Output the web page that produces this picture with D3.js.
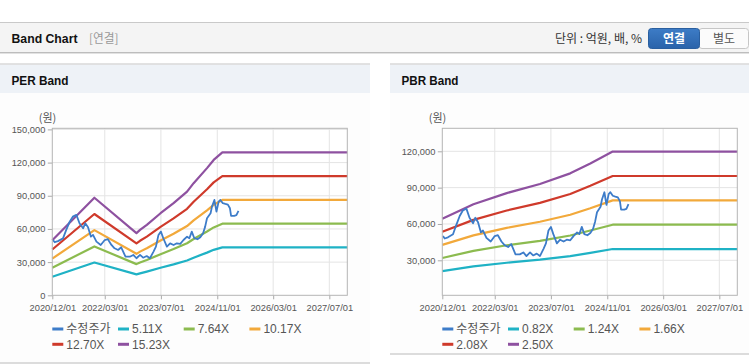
<!DOCTYPE html>
<html><head><meta charset="utf-8">
<script src="https://cdn.jsdelivr.net/npm/d3@7"></script>
<style>
html,body{margin:0;padding:0;background:#fff;}
svg{display:block;font-family:"Liberation Sans",Arial,"Noto Sans CJK KR",sans-serif;}
</style></head>
<body>
<svg id="c" width="749" height="364"></svg>
<script>
// ---------- DATA ----------
const xTickLabels = ["2020/12/01","2022/03/01","2023/07/01","2024/11/01","2026/03/01","2027/07/01"];
const xDomain = ["2020-12-01","2027-12-04"];

const priceDates = ["2020-12-07","2020-12-22","2021-01-19","2021-03-04","2021-04-01","2021-05-01","2021-05-28","2021-06-28","2021-07-25","2021-08-25","2021-09-13","2021-10-07","2021-11-01","2021-11-19","2021-12-19","2022-01-25","2022-03-01","2022-03-28","2022-04-28","2022-05-25","2022-06-25","2022-07-22","2022-08-28","2022-10-04","2022-11-04","2022-12-01","2023-01-01","2023-01-28","2023-02-28","2023-03-28","2023-04-28","2023-05-19","2023-06-10","2023-07-01","2023-07-22","2023-08-22","2023-09-19","2023-10-19","2023-11-16","2023-12-16","2024-01-13","2024-02-13","2024-03-04","2024-03-25","2024-04-16","2024-05-13","2024-06-07","2024-07-01","2024-07-19","2024-08-04","2024-09-04","2024-09-16","2024-10-07","2024-10-25","2024-11-13","2024-11-28","2024-12-19","2025-01-10","2025-02-01","2025-02-19","2025-03-01","2025-03-28","2025-04-16","2025-05-04"];
const priceValues = [50000,48000,49000,51500,59100,66600,71100,72700,65100,60600,65100,61500,53000,54600,48500,45500,50000,50700,45500,42500,41000,43400,34900,34900,36500,33500,36500,34000,35500,33500,39500,44000,54600,57600,51600,44000,47000,45500,47000,46500,50000,53000,51600,57600,51600,50700,52500,56100,62100,69700,74200,80200,86200,75700,84700,86200,83300,82600,82000,78700,71800,71800,72500,76300];

const perBandDates = ["2020-12-01","2021-12-01","2022-12-01","2023-01-01","2023-03-01","2023-06-28","2023-10-19","2024-02-13","2024-04-10","2024-08-04","2024-10-01","2024-12-15","2027-12-04"];
const per511  = [16700,29600,18900,19800,21400,24900,28000,31500,34000,38600,41100,43300,43300];
const per764  = [24900,44200,28200,29600,31900,37200,41800,47100,50900,57700,61400,64800,64800];
const per1017 = [33200,58900,37500,39500,42500,49500,55600,62600,67700,76800,81800,86200,86200];
const per1270 = [41400,73500,46900,49300,53100,61800,69500,78200,84600,95900,102100,107700,107700];
const per1523 = [49700,88200,56200,59100,63700,74200,83300,93800,101400,115000,122400,129200,129200];
const perLabels = ["수정주가","5.11X","7.64X","10.17X","12.70X","15.23X"];
const perYTicks = [0,30000,60000,90000,120000,150000];

const pbrBandDates = ["2020-12-01","2021-08-28","2022-06-13","2023-03-28","2023-12-16","2024-06-07","2024-12-18","2027-12-04"];
const pbr082 = [21100,25000,28000,30500,33400,36100,39300,39300];
const pbr124 = [31900,37800,42400,46100,50500,54600,59400,59400];
const pbr166 = [42700,50600,56800,61800,67600,73000,79500,79500];
const pbr208 = [53500,63400,71100,77400,84700,91500,99600,99600];
const pbr250 = [64300,76300,85500,93000,101800,110000,119800,119800];
const pbrLabels = ["수정주가","0.82X","1.24X","1.66X","2.08X","2.50X"];
const pbrYTicks = [30000,60000,90000,120000];

const colors = ["#3d7cc9","#1fb2c5","#8cbb4f","#f2a93b","#cf3a2b","#8e51a0"];

// ---------- DRAW ----------
const svg = d3.select("#c");
const parse = d3.timeParse("%Y-%m-%d");

// top header
svg.append("rect").attr("x",0).attr("y",22.5).attr("width",749).attr("height",30).attr("fill","#f4f4f4");
svg.append("line").attr("x1",0).attr("x2",749).attr("y1",22.5).attr("y2",22.5).attr("stroke","#c9c9c9");
svg.append("line").attr("x1",0).attr("x2",749).attr("y1",52.5).attr("y2",52.5).attr("stroke","#bdbdbd");
svg.append("line").attr("x1",0).attr("x2",749).attr("y1",53.5).attr("y2",53.5).attr("stroke","#e2e2e2");
svg.append("text").attr("x",11.5).attr("y",43).attr("font-size",12.5).attr("font-weight","bold").attr("fill","#111")
  .attr("textLength",66).attr("lengthAdjust","spacingAndGlyphs").text("Band Chart");
svg.append("text").attr("x",89).attr("y",43).attr("font-size",12).attr("fill","#999")
  .attr("font-family","'Noto Sans CJK KR',sans-serif").attr("textLength",29.5).attr("lengthAdjust","spacingAndGlyphs").text("[연결]");
svg.append("text").attr("x",642).attr("y",43).attr("text-anchor","end").attr("font-size",12).attr("fill","#333")
  .attr("font-family","'Noto Sans CJK KR',sans-serif").text("단위 : 억원, 배, %");
const grad = svg.append("defs").append("linearGradient").attr("id","btn").attr("x1",0).attr("x2",0).attr("y1",0).attr("y2",1);
grad.append("stop").attr("offset","0").attr("stop-color","#3d7cc6");
grad.append("stop").attr("offset","1").attr("stop-color","#2a63aa");
svg.append("rect").attr("x",699).attr("y",28.5).attr("width",49.5).attr("height",20).attr("rx",3).attr("fill","#fbfbfb").attr("stroke","#c6c6c6");
svg.append("rect").attr("x",648.5).attr("y",28.5).attr("width",51).attr("height",20).attr("rx",3).attr("fill","url(#btn)").attr("stroke","#2a5f9f");
svg.append("text").attr("x",674).attr("y",43).attr("text-anchor","middle").attr("font-size",12).attr("font-weight","bold")
  .attr("fill","#fff").attr("font-family","'Noto Sans CJK KR',sans-serif").text("연결");
svg.append("text").attr("x",724).attr("y",43).attr("text-anchor","middle").attr("font-size",12)
  .attr("fill","#555").attr("font-family","'Noto Sans CJK KR',sans-serif").text("별도");

function panel(cfg){
  const g = svg.append("g");
  g.append("rect").attr("x",cfg.px).attr("y",64).attr("width",cfg.pw).attr("height",cfg.pb-64).attr("fill","#fdfdfd");
  g.append("rect").attr("x",cfg.px).attr("y",64.5).attr("width",cfg.pw).attr("height",28.5).attr("fill","#eef2f7");
  g.append("line").attr("x1",cfg.px).attr("x2",cfg.px+cfg.pw).attr("y1",64).attr("y2",64).attr("stroke","#d9d9d9").attr("stroke-width",1.5);
  g.append("line").attr("x1",cfg.px).attr("x2",cfg.px+cfg.pw).attr("y1",cfg.pb).attr("y2",cfg.pb).attr("stroke","#d0d0d0").attr("stroke-width",1.5);
  g.append("text").attr("x",cfg.px+11.5).attr("y",85).attr("font-size",12.5).attr("font-weight","bold").attr("fill","#111")
    .attr("textLength",57).attr("lengthAdjust","spacingAndGlyphs").text(cfg.title);

  const L = cfg.left, R = cfg.left+295, T = 128.3, B = 295.3;
  const x = d3.scaleTime().domain(xDomain.map(parse)).range([L,R]);
  const y = d3.scaleLinear().domain(cfg.yDomain).range([B,T]);
  const xTickDates = xTickLabels.map(d3.timeParse("%Y/%m/%d"));

  g.append("rect").attr("x",L).attr("y",T).attr("width",R-L).attr("height",B-T).attr("fill","#fff");
  // grid
  g.selectAll(".hg").data(cfg.yTicks.filter(v=>v>0)).join("line")
    .attr("x1",L).attr("x2",R).attr("y1",d=>y(d)).attr("y2",d=>y(d)).attr("stroke","#e4e4e4");
  g.selectAll(".vg").data(xTickDates.slice(1)).join("line")
    .attr("x1",d=>x(d)).attr("x2",d=>x(d)).attr("y1",T).attr("y2",B).attr("stroke","#e4e4e4");

  // axes
  const ya = g.append("g").attr("transform",`translate(${L},0)`)
    .call(d3.axisLeft(y).tickValues(cfg.yTicks).tickFormat(d3.format(",")).tickSize(4.5).tickPadding(2.5));
  const xa = g.append("g").attr("transform",`translate(0,${B})`)
    .call(d3.axisBottom(x).tickValues(xTickDates).tickFormat(d3.timeFormat("%Y/%m/%d")).tickSize(4).tickPadding(5));
  [ya,xa].forEach(a=>{
    a.select(".domain").remove();
    a.selectAll("line").attr("stroke","#aaa");
    a.selectAll("text").attr("fill","#555").attr("font-size",9.3).attr("font-family","'Liberation Sans',Arial,sans-serif");
  });

  g.append("text").attr("x",cfg.unitX).attr("y",122).attr("text-anchor","middle").attr("font-size",11)
    .attr("fill","#555").attr("font-family","'Noto Sans CJK KR',sans-serif").text("(원)");

  // lines
  const line = d3.line().x(d=>x(d[0])).y(d=>y(d[1]));
  const series = [priceDates.map((d,i)=>[parse(d),priceValues[i]])];
  cfg.bands.forEach(b=>series.push(cfg.bandDates.map((d,i)=>[parse(d),b[i]])));
  const order = [1,2,3,4,5,0];
  order.forEach(i=>{
    g.append("path").datum(series[i]).attr("d",line).attr("fill","none")
      .attr("stroke",colors[i]).attr("stroke-width",i===0?1.8:2.2).attr("stroke-linejoin","round");
  });

  // border
  g.append("rect").attr("x",L).attr("y",T).attr("width",R-L).attr("height",B-T).attr("fill","none").attr("stroke","#b5b5b5");

  // legend
  cfg.labels.forEach((lab,i)=>{
    const col = i%4, row = Math.floor(i/4);
    const lx = L + col*65.7, ly = 329 + row*15.3;
    g.append("line").attr("x1",lx).attr("x2",lx+11).attr("y1",ly).attr("y2",ly).attr("stroke",colors[i]).attr("stroke-width",3);
    g.append("text").attr("x",lx+14).attr("y",ly+4.3).attr("font-size",12).attr("fill","#555").text(lab);
  });
}

panel({px:0,pw:370,pb:363,title:"PER Band",left:52.3,yDomain:[0,151000],yTicks:perYTicks,unitX:47.5,
  bandDates:perBandDates,bands:[per511,per764,per1017,per1270,per1523],labels:perLabels});
panel({px:390,pw:359,pb:354,title:"PBR Band",left:442.3,yDomain:[1100,139000],yTicks:pbrYTicks,unitX:437.5,
  bandDates:pbrBandDates,bands:[pbr082,pbr124,pbr166,pbr208,pbr250],labels:pbrLabels});
</script>
</body></html>
